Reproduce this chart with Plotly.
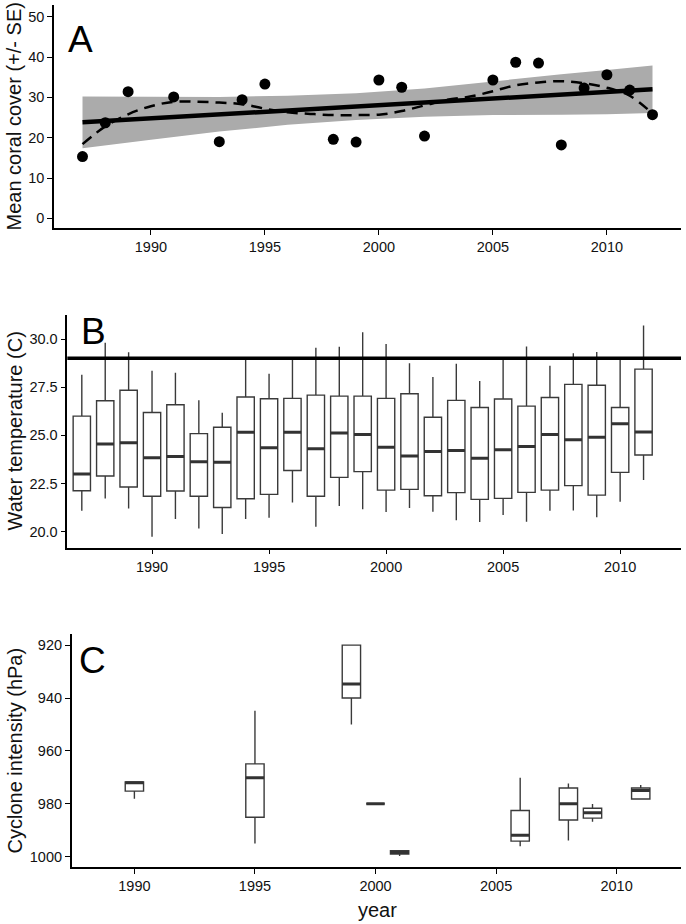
import plotly.graph_objects as go

W, H = 686, 924
FONT = "Liberation Sans, Arial, sans-serif"

# ---------------- Panel A: coral cover ----------------
coral_years = [1987, 1988, 1989, 1991, 1993, 1994, 1995, 1998, 1999, 2000,
               2001, 2002, 2005, 2006, 2007, 2008, 2009, 2010, 2011, 2012]
coral_cover = [15.3, 23.7, 31.4, 30.1, 19.0, 29.4, 33.3, 19.6, 18.9, 34.3,
               32.5, 20.4, 34.3, 38.7, 38.5, 18.2, 32.3, 35.6, 31.8, 25.7]

fit_years = [1987, 2012]
fit_values = [23.8, 32.0]

band_years = [1987, 1990, 1993, 1996, 1999, 2002, 2005, 2008, 2010, 2012]
band_upper = [30.2, 30.1, 30.1, 30.4, 31.0, 32.2, 34.0, 35.7, 36.8, 37.9]
band_lower = [17.4, 19.5, 21.5, 23.2, 24.4, 25.2, 25.6, 25.7, 25.8, 26.1]

smooth_years = list(range(1987, 2013))
smooth_values = [18.4, 22.8, 25.8, 27.8, 28.9, 28.9, 28.7, 28.3, 27.2, 26.3,
                 25.9, 25.6, 25.6, 25.7, 26.6, 28.0, 29.4, 30.2, 31.5, 33.0,
                 33.7, 34.0, 33.5, 32.4, 30.4, 26.0]

# ---------------- Panel B: water temperature ----------------
temp_years = list(range(1987, 2012))
temp_low = [21.09, 21.73, 21.21, 19.74, 20.66, 20.17, 19.88, 20.66, 20.73, 21.52,
            20.26, 21.33, 21.16, 21.02, 21.23, 21.04, 20.59, 20.50, 20.87, 20.52,
            21.09, 21.10, 20.75, 21.56, 22.68]
temp_q1 = [22.13, 22.89, 22.32, 21.84, 22.11, 21.84, 21.26, 21.71, 21.94, 23.18,
           21.84, 22.82, 23.12, 22.16, 22.20, 21.87, 22.03, 21.68, 21.73, 22.04,
           22.16, 22.39, 21.90, 23.08, 23.98]
temp_med = [23.00, 24.55, 24.62, 23.84, 23.91, 23.63, 23.60, 25.16, 24.36, 25.16,
            24.31, 25.12, 25.04, 24.38, 23.93, 24.17, 24.21, 23.81, 24.26, 24.43,
            25.04, 24.78, 24.90, 25.61, 25.17]
temp_q3 = [26.00, 26.80, 27.34, 26.19, 26.59, 25.09, 25.42, 26.99, 26.90, 26.92,
           27.09, 27.04, 27.04, 26.92, 27.16, 25.94, 26.82, 26.45, 26.89, 26.52,
           26.97, 27.65, 27.60, 26.45, 28.44]
temp_high = [28.15, 29.81, 29.31, 28.36, 28.25, 26.82, 26.18, 28.91, 28.20, 28.91,
             29.55, 29.60, 30.36, 29.74, 28.75, 28.03, 28.72, 27.82, 28.94, 29.62,
             28.62, 29.26, 29.33, 28.94, 30.71]
bleach_threshold = 29.0

# ---------------- Panel C: cyclone intensity ----------------
cyc_years = [1990, 1995, 1999, 2000, 2001, 2006, 2008, 2009, 2011]
cyc_low = [971.7, 944.8, 920.0, 980.0, 997.7, 970.1, 972.3, 980.1, 972.9]
cyc_q1 = [971.7, 964.9, 920.0, 980.0, 997.7, 982.5, 974.0, 981.7, 974.0]
cyc_med = [972.0, 970.1, 934.7, 980.0, 998.4, 991.9, 980.0, 983.4, 975.0]
cyc_q3 = [975.2, 985.1, 940.0, 980.0, 999.0, 994.1, 986.1, 985.4, 978.2]
cyc_high = [978.1, 995.0, 950.0, 980.0, 999.7, 996.0, 993.9, 986.8, 978.2]

xticks = [1990, 1995, 2000, 2005, 2010]


def px(x):
    return x / W


def py(y):
    return 1 - y / H


def median_segments(xs, meds, width):
    sx, sy = [], []
    for x, m in zip(xs, meds):
        sx += [x - width / 2, x + width / 2, None]
        sy += [m, m, None]
    return sx, sy


fig = go.Figure()

# Panel A
fig.add_trace(go.Scatter(
    x=band_years + band_years[::-1], y=band_upper + band_lower[::-1],
    fill="toself", fillcolor="#ababab", line=dict(width=0),
    mode="lines", hoverinfo="skip", showlegend=False, xaxis="x", yaxis="y"))
fig.add_trace(go.Scatter(
    x=fit_years, y=fit_values, mode="lines",
    line=dict(color="black", width=4.5), showlegend=False, xaxis="x", yaxis="y"))
fig.add_trace(go.Scatter(
    x=smooth_years, y=smooth_values, mode="lines", line_shape="spline",
    line=dict(color="black", width=2.5, dash="11px,7px"),
    showlegend=False, xaxis="x", yaxis="y"))
fig.add_trace(go.Scatter(
    x=coral_years, y=coral_cover, mode="markers",
    marker=dict(color="black", size=11), showlegend=False, xaxis="x", yaxis="y"))

# Panel B
BW_B = 0.74
fig.add_trace(go.Box(
    x=temp_years, q1=temp_q1, median=temp_med, q3=temp_q3,
    lowerfence=temp_low, upperfence=temp_high, width=BW_B,
    fillcolor="white", line=dict(color="#3a3a3a", width=1.4), whiskerwidth=0,
    boxpoints=False, showlegend=False, xaxis="x2", yaxis="y2"))
mx, my = median_segments(temp_years, temp_med, BW_B)
fig.add_trace(go.Scatter(
    x=mx, y=my, mode="lines", line=dict(color="#333333", width=3),
    showlegend=False, xaxis="x2", yaxis="y2"))

# Panel C
BW_C = 0.76
fig.add_trace(go.Box(
    x=cyc_years, q1=cyc_q1, median=cyc_med, q3=cyc_q3,
    lowerfence=cyc_low, upperfence=cyc_high, width=BW_C,
    fillcolor="white", line=dict(color="#3a3a3a", width=1.4), whiskerwidth=0,
    boxpoints=False, showlegend=False, xaxis="x3", yaxis="y3"))
cx, cy = median_segments(cyc_years, cyc_med, BW_C)
fig.add_trace(go.Scatter(
    x=cx, y=cy, mode="lines", line=dict(color="#333333", width=3),
    showlegend=False, xaxis="x3", yaxis="y3"))

axis_common = dict(
    showline=True, linecolor="black", linewidth=1.5, ticks="outside",
    ticklen=5, tickwidth=1.2, tickcolor="black", showgrid=False, zeroline=False,
    tickfont=dict(family=FONT, size=14.5, color="#111111"), mirror=False)

fig.update_layout(
    width=W, height=H, margin=dict(l=0, r=0, t=0, b=0),
    paper_bgcolor="white", plot_bgcolor="white", showlegend=False,
    xaxis=dict(domain=[px(54), px(681)], range=[1985.75, 2013.25],
               tickvals=xticks, anchor="y", **axis_common),
    yaxis=dict(domain=[py(228), py(5)], range=[-2.4, 52.9],
               tickvals=[0, 10, 20, 30, 40, 50], anchor="x", **axis_common),
    xaxis2=dict(domain=[px(67.3), px(681)], range=[1986.38, 2012.6],
                tickvals=xticks, anchor="y2", **axis_common),
    yaxis2=dict(domain=[py(547.7), py(315)], range=[19.17, 31.25],
                tickvals=[20, 22.5, 25, 27.5, 30], tickformat=".1f",
                anchor="x2", **axis_common),
    xaxis3=dict(domain=[px(71.7), px(681)], range=[1987.4, 2012.67],
                tickvals=xticks, anchor="y3", **axis_common),
    yaxis3=dict(domain=[py(867.3), py(634)], range=[1004.0, 915.8],
                tickvals=[920, 940, 960, 980, 1000], anchor="x3", **axis_common),
)

fig.add_shape(type="line", xref="x2 domain", yref="y2", x0=0, x1=1,
              y0=bleach_threshold, y1=bleach_threshold,
              line=dict(color="black", width=3.5))

annots = []
for letter, xl, yc in [("A", 66, 40), ("B", 79, 332), ("C", 77, 660)]:
    annots.append(dict(text=letter, xref="paper", yref="paper", x=px(xl), y=py(yc),
                       xanchor="left", yanchor="middle", showarrow=False,
                       font=dict(family=FONT, size=37, color="black")))
for title, yc in [("Mean coral cover (+/- SE)", 116.5),
                  ("Water temperature (C)", 431.5),
                  ("Cyclone intensity (hPa)", 750.5)]:
    annots.append(dict(text=title, xref="paper", yref="paper", x=px(14), y=py(yc),
                       xanchor="center", yanchor="middle", textangle=-90,
                       showarrow=False,
                       font=dict(family=FONT, size=20, color="#111111")))
annots.append(dict(text="year", xref="paper", yref="paper", x=px(377), y=py(910),
                   xanchor="center", yanchor="middle", showarrow=False,
                   font=dict(family=FONT, size=20, color="#111111")))
fig.update_layout(annotations=annots)

fig.write_html(
    "out.html",
    config={"displayModeBar": False},
    post_script="document.body.style.margin='0';document.body.style.overflow='hidden';",
)
